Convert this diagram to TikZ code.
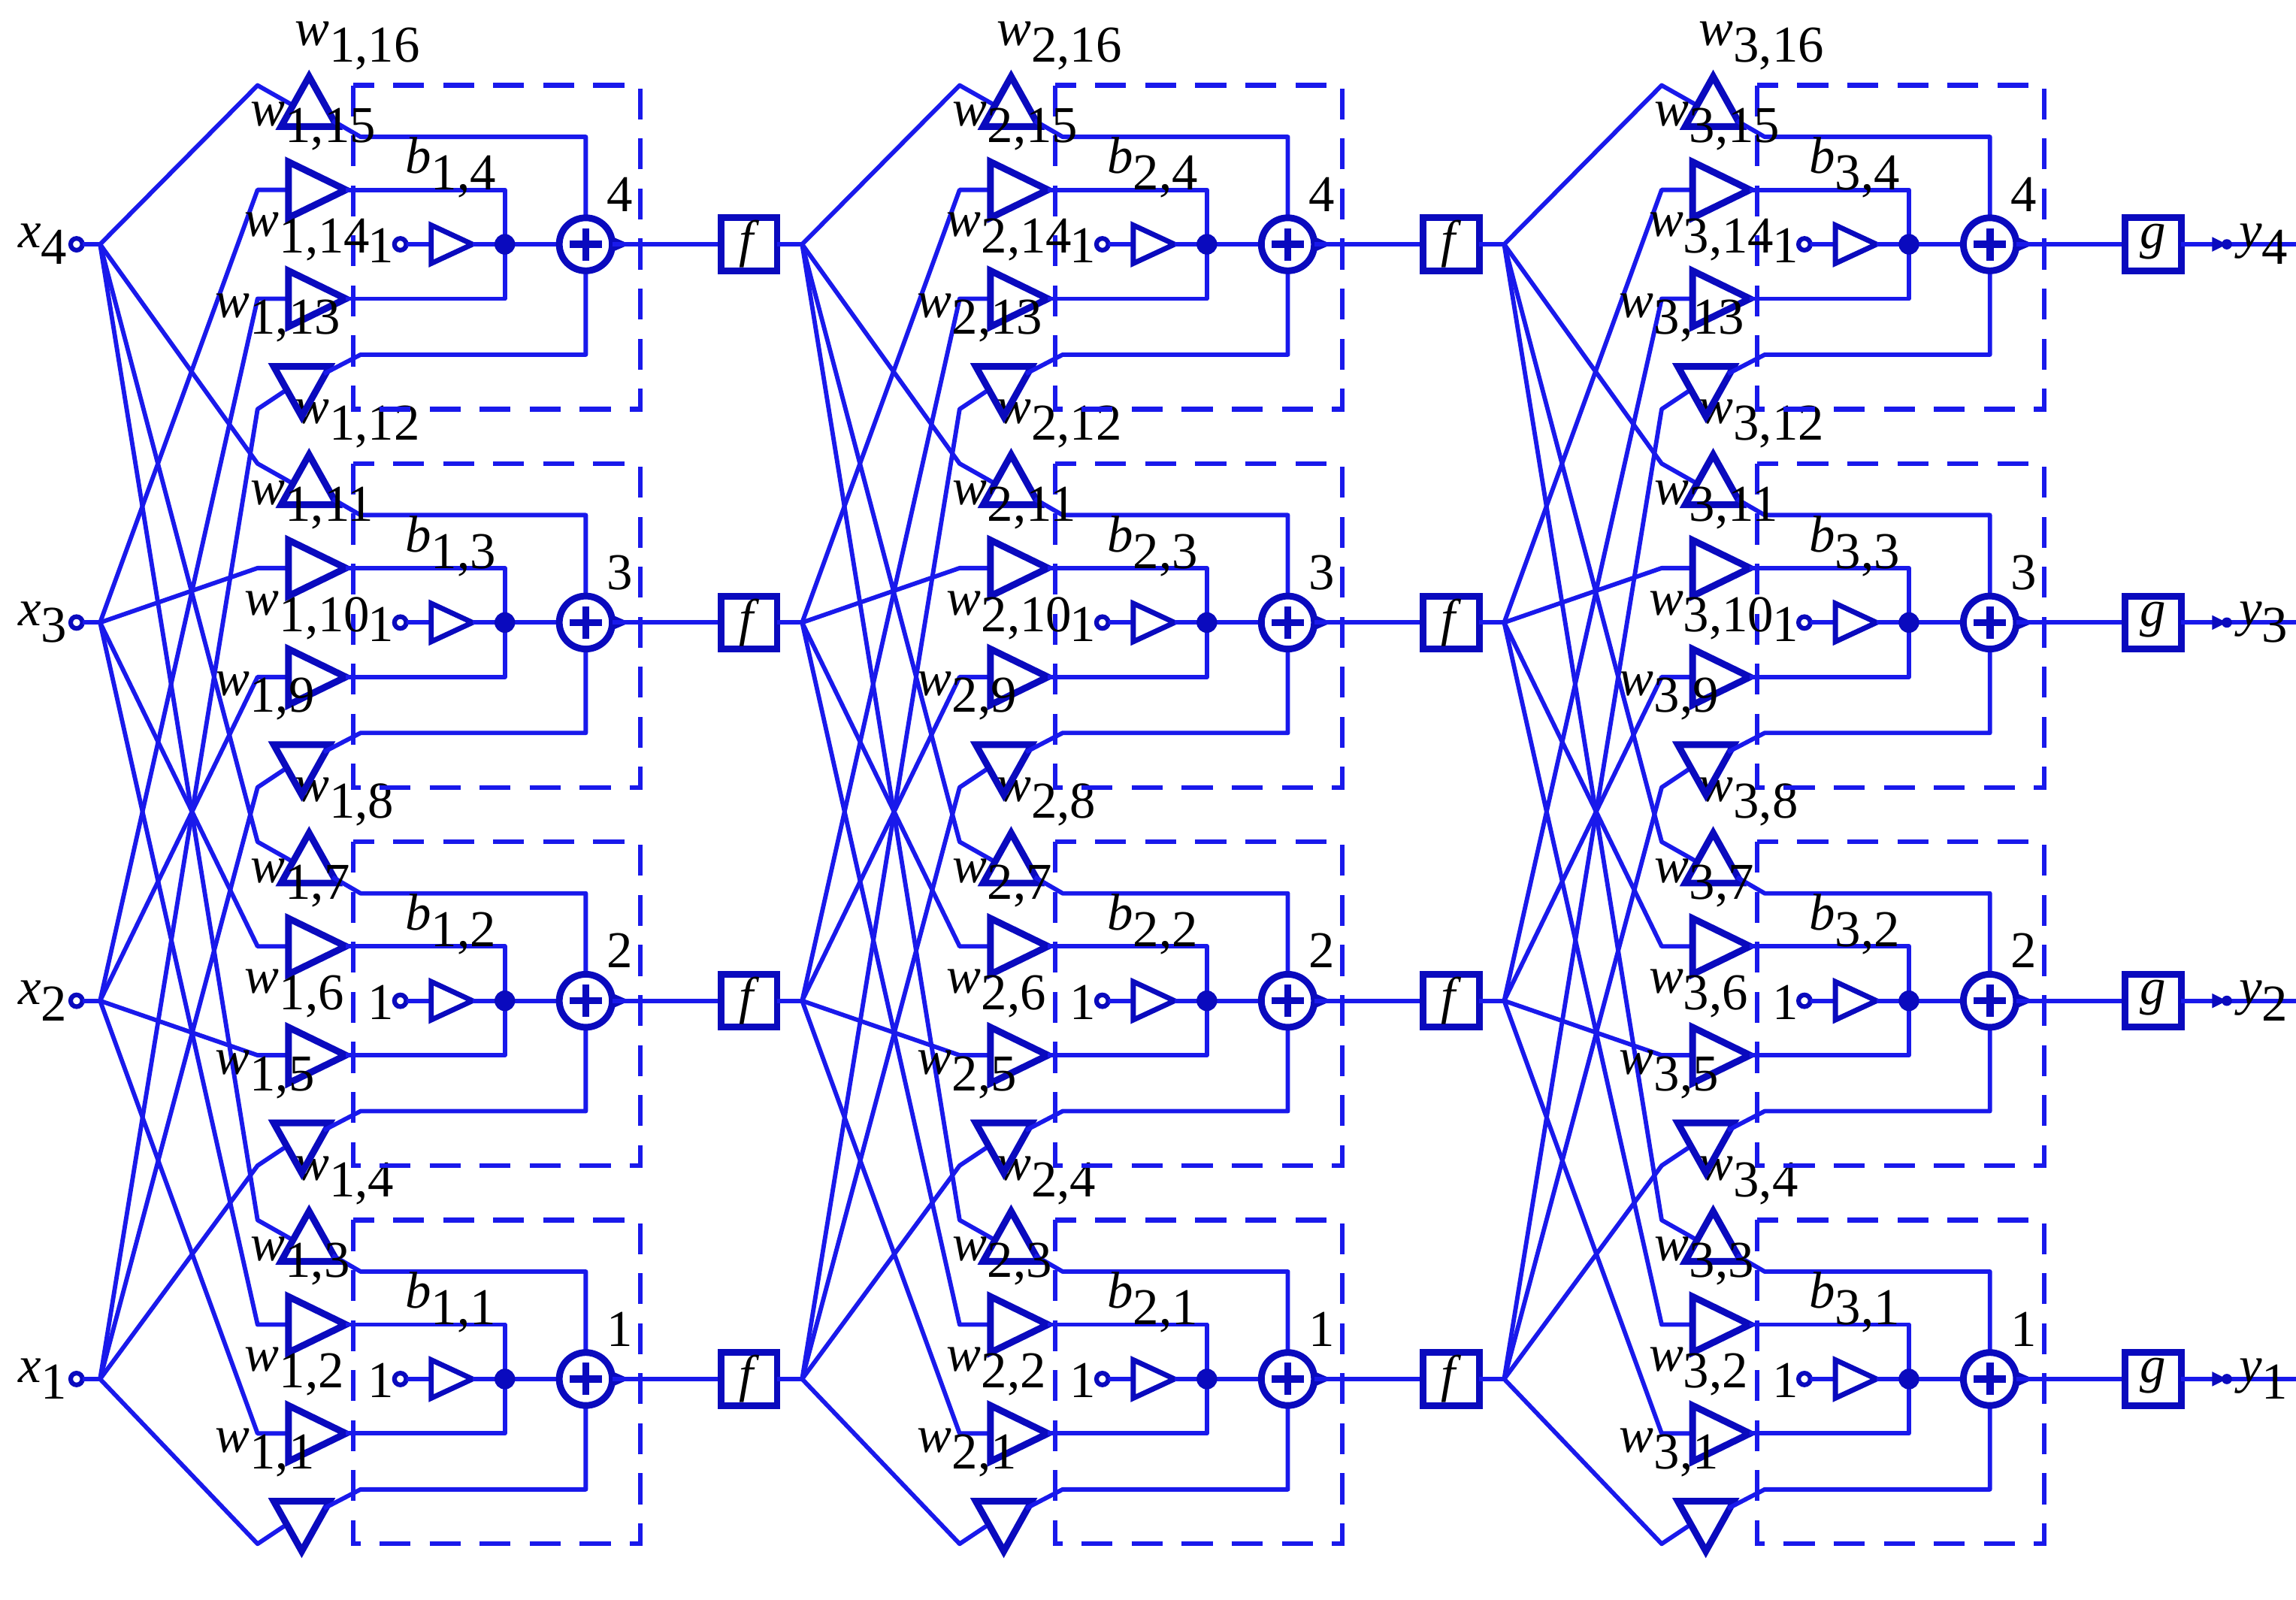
\documentclass[tikz,border=0pt]{standalone}
\usepackage{fontspec}
\setmainfont{Liberation Serif}
\begin{document}
\begin{tikzpicture}[x=0.02cm,y=-0.02cm,
  wire/.style={draw={rgb,255:red,25;green,25;blue,235},line width=1.7pt,line join=round},
  shp/.style={draw={rgb,255:red,10;green,10;blue,190},line width=2.6pt,line join=miter},
  dbox/.style={draw={rgb,255:red,25;green,25;blue,235},line width=1.8pt,dash pattern=on 0.42cm off 0.26cm},
  lab/.style={inner sep=0pt,font=\fontsize{20}{22}\selectfont,anchor=west}]
\newcommand\wl[2]{\textit{#1}\raisebox{-0.7ex}{#2}}
\useasboundingbox (0,0) rectangle (1560,1087);
\definecolor{sc}{RGB}{10,10,190}
% inputs
\foreach \k in {1,...,4}{
  \pgfmathsetmacro\cy{937-(\k-1)*257}
  \node[lab,anchor=east] (xl\k) at (46,\cy) {\wl{x}{\k}};
  \draw[shp,line width=1.8pt] (52,\cy) circle (4);
  \draw[wire] (56,\cy) -- (68,\cy);
}
\foreach \l in {1,2,3}{
 \pgfmathsetmacro\o{(\l-1)*477}
 \pgfmathsetmacro\F{68+\o}
 \foreach \j in {1,...,4}{
  \pgfmathsetmacro\c{937-(\j-1)*257}
  % input wires
  \foreach \k/\ky/\ex/\ey in {4/-108/198/-95, 3/-37/195/-37, 2/37/195/37, 1/112/193/100}{
    \pgfmathsetmacro\sy{937-(\k-1)*257}
    \draw[wire] (\F,\sy) -- (\o+175,\c+\ky) -- (\o+\ex,\c+\ey);
  }
  % triangles
  \draw[shp] (\o+210,\c-114) -- (\o+229,\c-80) -- (\o+191,\c-80) -- cycle;
  \draw[shp] (\o+196,\c-56) -- (\o+235,\c-37) -- (\o+196,\c-18) -- cycle;
  \draw[shp] (\o+196,\c+18) -- (\o+235,\c+37) -- (\o+196,\c+56) -- cycle;
  \draw[shp] (\o+186,\c+83) -- (\o+224,\c+83) -- (\o+205,\c+117) -- cycle;
  % outputs
  \draw[wire] (\o+226,\c-84) -- (\o+245,\c-73) -- (\o+398,\c-73) -- (\o+398,\c-18);
  \draw[wire] (\o+235,\c-37) -- (\o+343,\c-37) -- (\o+343,\c+37) -- (\o+235,\c+37);
  \draw[wire] (\o+220,\c+88) -- (\o+245,\c+75) -- (\o+398,\c+75) -- (\o+398,\c+18);
  % dashed box
  \draw[dbox] (\o+240,\c-108) rectangle (\o+435,\c+112);
  % bias
  \node[lab,anchor=east] at (\o+268,\c+1) {1};
  \draw[shp,line width=1.8pt] (\o+272,\c) circle (4);
  \draw[wire] (\o+276,\c) -- (\o+293,\c);
  \draw[shp,line width=2pt] (\o+293,\c-13) -- (\o+321,\c) -- (\o+293,\c+13) -- cycle;
  \draw[wire] (\o+321,\c) -- (\o+380,\c);
  \fill[sc] (\o+343,\c) circle (7);
  \draw[shp] (\o+398,\c) circle (18);
  \draw[shp,line width=2.8pt] (\o+387,\c) -- (\o+409,\c) (\o+398,\c-11) -- (\o+398,\c+11);
  \fill[sc] (\o+414,\c-6) -- (\o+428,\c) -- (\o+414,\c+6) -- cycle;
  \draw[wire] (\o+416,\c) -- (\o+490,\c);
  \node[lab,anchor=center] at (\o+421,\c-34) {\j};
  \node[lab] at (\o+275,\c-52) {\wl{b}{\l,\j}};
  % labels of weights
  \pgfmathtruncatemacro\na{4*(\j-1)+4}
  \pgfmathtruncatemacro\nb{4*(\j-1)+3}
  \pgfmathtruncatemacro\nc{4*(\j-1)+2}
  \pgfmathtruncatemacro\nd{4*(\j-1)+1}
  \node[lab] at (\o+200,\c-135) {\wl{w}{\l,\na}};
  \node[lab] at (\o+170,\c-80) {\wl{w}{\l,\nb}};
  \node[lab] at (\o+166,\c-5) {\wl{w}{\l,\nc}};
  \node[lab] at (\o+146,\c+50) {\wl{w}{\l,\nd}};
  % box f or g
  \draw[shp,line width=2.6pt,fill=white] (\o+490,\c-18) rectangle (\o+528,\c+18);
  \ifnum\l=3
    \node[lab,anchor=center] at (\o+509,\c-2) {\textit{g}};
    \draw[wire] (\o+528,\c) -- (\o+1036,\c);
  \else
    \node[lab,anchor=center] at (\o+509,\c) {\textit{f}};
    \draw[wire] (\o+528,\c) -- (\o+545,\c);
  \fi
 }
}
\foreach \j in {1,...,4}{
  \pgfmathsetmacro\c{937-(\j-1)*257}
  \fill[sc] (1503,\c-5) -- (1513,\c) -- (1503,\c+5) -- cycle;
  \fill[sc] (1513,\c) circle (3.5);
  \node[lab] (yl\j) at (1521,\c) {\wl{y}{\j}};
}
\end{tikzpicture}
\end{document}
